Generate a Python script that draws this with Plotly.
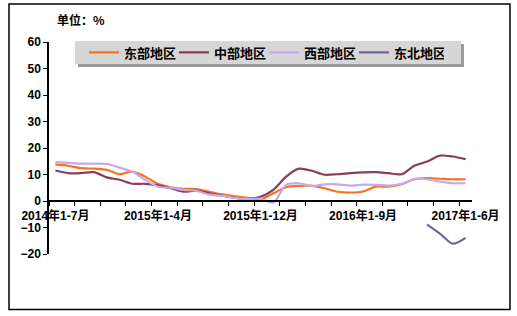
import plotly.graph_objects as go

months = (["2014年1-%d月" % m for m in range(7, 13)]
          + ["2015年1-%d月" % m for m in range(2, 13)]
          + ["2016年1-%d月" % m for m in range(2, 13)]
          + ["2017年1-%d月" % m for m in range(2, 7)])

east = [13.8, 13.3, 12.4, 12.2, 11.8, 10.1, 11.1, 9.2, 6.5, 5.2, 4.6, 4.5, 3.5, 2.5, 1.8, 1.2,
        0.6, 2.9, 5.2, 5.7, 5.7, 4.8, 3.5, 3.2, 3.6, 5.4, 5.4, 6.3, 8.2, 8.6, 8.4, 8.2, 8.2]
central = [11.5, 10.5, 10.5, 10.9, 8.9, 8.0, 6.5, 6.5, 5.9, 4.8, 3.5, 3.9, 2.9, 2.0, 1.2, 0.8,
           1.6, 4.2, 9.2, 12.2, 11.4, 9.9, 10.1, 10.5, 10.8, 10.9, 10.5, 10.1, 13.3, 14.9, 17.1, 16.8, 15.8]
west = [14.7, 14.4, 14.1, 14.1, 14.0, 12.6, 11.1, 8.0, 5.4, 5.0, 4.2, 3.8, 2.4, 2.0, 1.2, 0.8,
        0.8, -0.6, 6.1, 6.7, 5.7, 6.3, 6.3, 5.8, 6.2, 6.1, 5.8, 6.5, 8.2, 8.2, 7.3, 6.7, 6.7]
northeast = [None] * 29 + [-8.9, -12.3, -16.1, -13.9]

series = [("东部地区", east, "#F5731E"),
          ("中部地区", central, "#8E3A5E"),
          ("西部地区", west, "#C8A8F0"),
          ("东北地区", northeast, "#75648F")]

label_idx = [0, 8, 16, 24, 32]
x = list(range(len(months)))

fig = go.Figure()
for name, vals, color in series:
    fig.add_trace(go.Scatter(x=x, y=vals, name=name, mode="lines",
                             line=dict(color=color, width=2.2, shape="spline", smoothing=0.8),
                             connectgaps=False))

num_font = dict(family="Liberation Sans, Arial", size=12, color="black")

def px(xp):
    return (xp - 49) / 423

def py(yp):
    return (254 - yp) / 212

fig.update_layout(
    width=517, height=316,
    margin=dict(l=49, r=45, t=42, b=62),
    paper_bgcolor="white", plot_bgcolor="white",
    font=dict(family="Liberation Sans, Noto Sans CJK SC", size=12, color="black"),
    showlegend=True,
    legend=dict(orientation="h", x=px(84), y=py(52.5), xanchor="left", yanchor="middle",
                bgcolor="rgba(0,0,0,0)", borderwidth=0,
                font=dict(family="Noto Sans CJK SC", size=13, color="black", weight="bold"),
                entrywidth=45, itemwidth=30),
    xaxis=dict(range=[-0.5, 32.5], anchor="free", position=0.25,
               showline=True, linecolor="black", linewidth=1.5,
               tickvals=[x[i] for i in label_idx], ticktext=["<b>%s</b>" % months[i] for i in label_idx],
               ticks="", showgrid=False, zeroline=False, ticklabelstandoff=4,
               tickfont=dict(family="Liberation Sans, Noto Sans CJK SC", size=12, color="black"),
               minor=dict(tickvals=[v - 0.5 for v in range(0, 34, 2)], ticks="outside",
                          ticklen=4, tickcolor="black", tickwidth=1, showgrid=False)),
    yaxis=dict(range=[-20, 60], dtick=10, tick0=0, showline=True, linecolor="black", linewidth=1.5,
               ticks="outside", ticklen=4, tickcolor="black", showgrid=False, zeroline=False,
               tickfont=dict(num_font, weight="bold")),
    annotations=[dict(text="<b>单位：%</b>", xref="paper", yref="paper",
                      x=px(55), y=py(20), xanchor="left", yanchor="middle",
                      showarrow=False, font=dict(family="Noto Sans CJK SC", size=12, color="black"))],
    shapes=[dict(type="rect", xref="paper", yref="paper",
                 x0=px(9), x1=px(510), y0=py(309.5), y1=py(4),
                 line=dict(color="black", width=1.5), layer="below"),
            dict(type="rect", xref="paper", yref="paper",
                 x0=px(78), x1=px(464), y0=py(67), y1=py(44),
                 fillcolor="#9A9A9A", line=dict(width=0), layer="above"),
            dict(type="rect", xref="paper", yref="paper",
                 x0=px(75), x1=px(461), y0=py(64), y1=py(41),
                 fillcolor="#D6D6D6", line=dict(width=0), layer="above")],
)

fig.write_html("out.html")
